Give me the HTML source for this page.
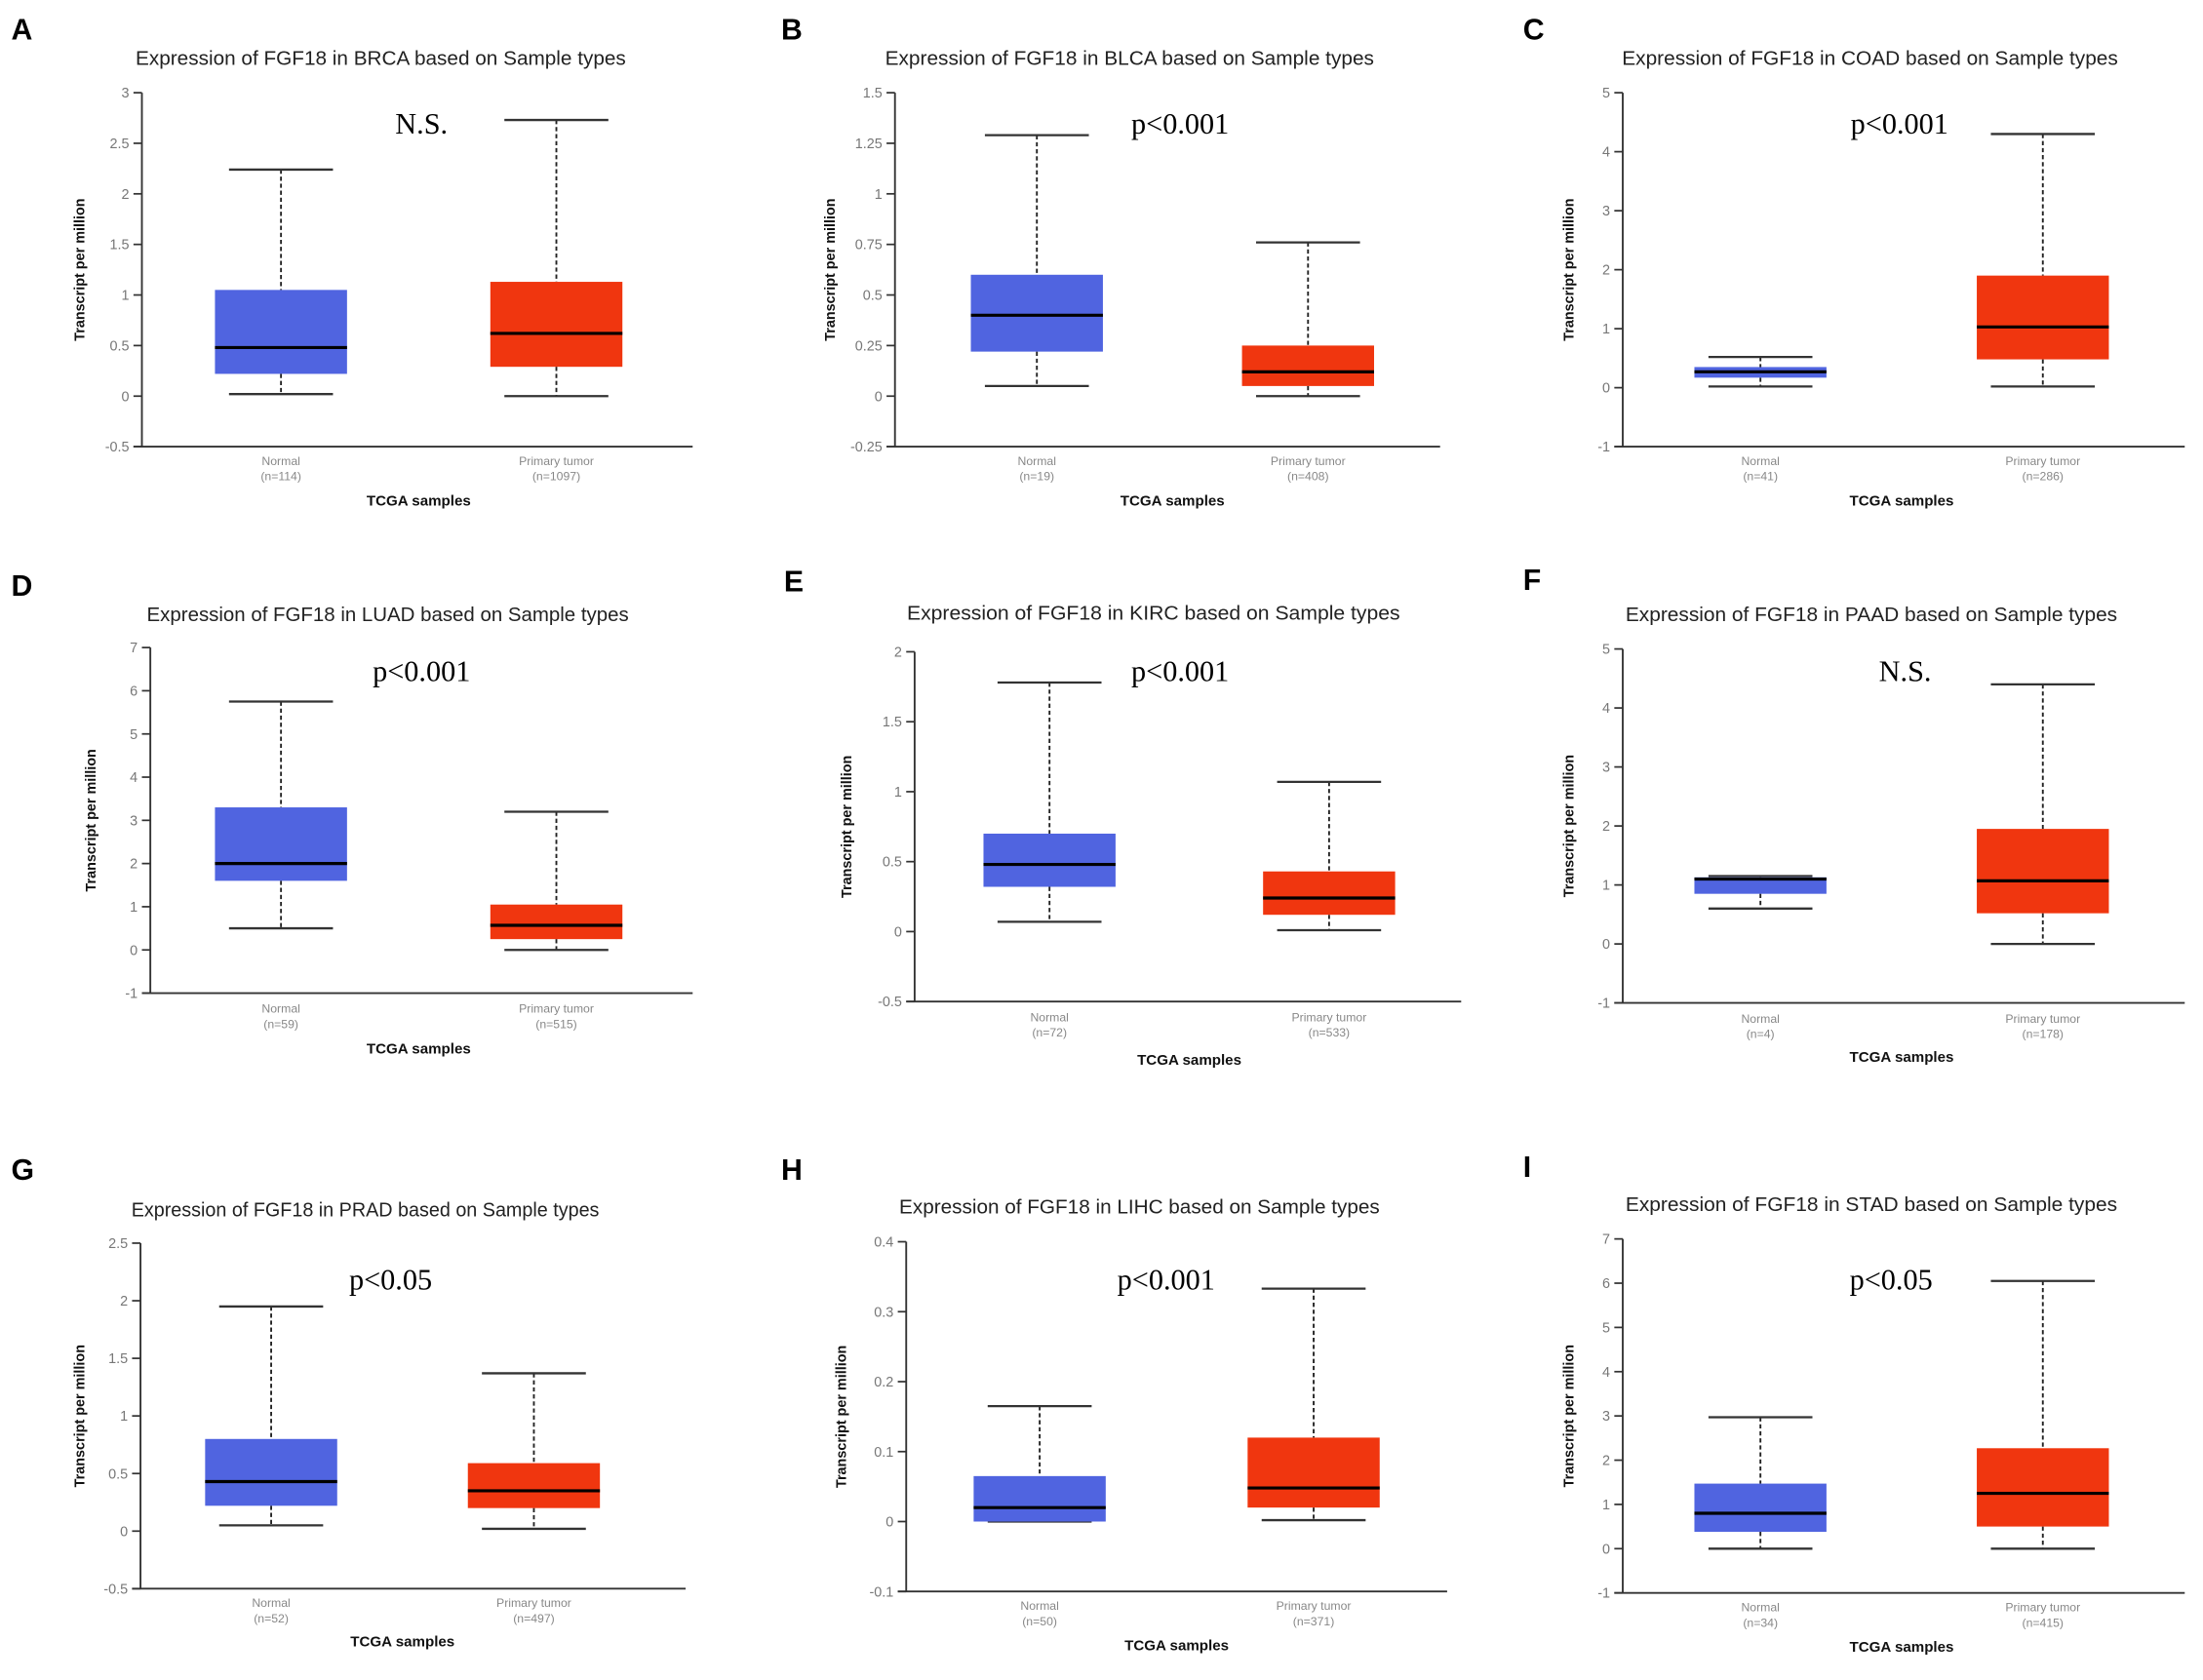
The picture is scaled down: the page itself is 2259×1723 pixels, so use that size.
<!DOCTYPE html>
<html><head><meta charset="utf-8"><style>
html,body{margin:0;padding:0;background:#fff;}
svg{display:block;}
</style></head><body>
<svg id="fig" width="2259" height="1723" viewBox="0 0 1568 1196" preserveAspectRatio="none" xmlns="http://www.w3.org/2000/svg"></svg>
<script>
// panel order: A..I
const panelLetters = ["A","B","C","D","E","F","G","H","I"];
const cancers = ["BRCA","BLCA","COAD","LUAD","KIRC","PAAD","PRAD","LIHC","STAD"];
const pLabels = ["N.S.","p<0.001","p<0.001","p<0.001","p<0.001","N.S.","p<0.05","p<0.001","p<0.05"];
const normalN = [114,19,41,59,72,4,52,50,34];
const tumorN = [1097,408,286,515,533,178,497,371,415];
// [min, q1, median, q3, max]
const normalStats = [
 [0.02,0.22,0.48,1.05,2.24],
 [0.05,0.22,0.40,0.60,1.29],
 [0.02,0.17,0.27,0.35,0.52],
 [0.50,1.60,2.00,3.30,5.75],
 [0.07,0.32,0.48,0.70,1.78],
 [0.60,0.85,1.10,1.13,1.15],
 [0.05,0.22,0.43,0.80,1.95],
 [0.00,0.00,0.02,0.065,0.165],
 [0.00,0.38,0.80,1.47,2.97]
];
const tumorStats = [
 [0.00,0.29,0.62,1.13,2.73],
 [0.00,0.05,0.12,0.25,0.76],
 [0.02,0.48,1.03,1.90,4.30],
 [0.00,0.25,0.57,1.05,3.20],
 [0.01,0.12,0.24,0.43,1.07],
 [0.00,0.52,1.07,1.95,4.40],
 [0.02,0.20,0.35,0.59,1.37],
 [0.002,0.02,0.048,0.12,0.333],
 [0.00,0.50,1.25,2.27,6.05]
];
const yTickLabels = [
 ["-0.5","0","0.5","1","1.5","2","2.5","3"],
 ["-0.25","0","0.25","0.5","0.75","1","1.25","1.5"],
 ["-1","0","1","2","3","4","5"],
 ["-1","0","1","2","3","4","5","6","7"],
 ["-0.5","0","0.5","1","1.5","2"],
 ["-1","0","1","2","3","4","5"],
 ["-0.5","0","0.5","1","1.5","2","2.5"],
 ["-0.1","0","0.1","0.2","0.3","0.4"],
 ["-1","0","1","2","3","4","5","6","7"]
];
// layout (preview coordinates)
const L = [
 {ax:101,top:66,bot:318,xend:493,cx:[200,396],tx:271,ty:41,tw:349,lx:8,ly:28,px:300,py:88,lab:[328,339,356],ytx:60},
 {ax:637,top:66,bot:318,xend:1025,cx:[738,931],tx:804,ty:41,tw:348,lx:556,ly:28,px:840,py:88,lab:[328,339,356],ytx:594},
 {ax:1155,top:66,bot:318,xend:1555,cx:[1253,1454],tx:1331,ty:41,tw:353,lx:1084,ly:28,px:1352,py:88,lab:[328,339,356],ytx:1120},
 {ax:107,top:461,bot:707,xend:493,cx:[200,396],tx:276,ty:437,tw:343,lx:8,ly:424,px:300,py:478,lab:[718,729,746],ytx:68},
 {ax:651,top:464,bot:713,xend:1040,cx:[747,946],tx:821,ty:436,tw:351,lx:558,ly:421,px:840,py:478,lab:[724,735,754],ytx:606},
 {ax:1155,top:462,bot:714,xend:1555,cx:[1253,1454],tx:1332,ty:437,tw:350,lx:1084,ly:420,px:1356,py:478,lab:[725,736,752],ytx:1120},
 {ax:100,top:885,bot:1131,xend:488,cx:[193,380],tx:260,ty:861,tw:333,lx:8,ly:840,px:278,py:911,lab:[1141,1152,1168],ytx:60},
 {ax:645,top:884,bot:1133,xend:1030,cx:[740,935],tx:811,ty:859,tw:342,lx:556,ly:840,px:830,py:911,lab:[1143,1154,1171],ytx:602},
 {ax:1155,top:882,bot:1134,xend:1555,cx:[1253,1454],tx:1332,ty:857,tw:350,lx:1084,ly:838,px:1346,py:911,lab:[1144,1155,1172],ytx:1120}
];
const NS="http://www.w3.org/2000/svg";
const svg=document.getElementById('fig');
function mk(tag,attrs,parent){const e=document.createElementNS(NS,tag);for(const k in attrs)e.setAttribute(k,attrs[k]);(parent||svg).appendChild(e);return e;}
function txt(s,attrs,parent){const e=mk('text',attrs,parent);e.textContent=s;return e;}

for(let i=0;i<9;i++){
  const l=L[i];
  const g=mk('g',{});
  
  
  const ticks=yTickLabels[i].map(Number);
  const ymin=ticks[0], ymax=ticks[ticks.length-1];
  const y=v=>l.bot-(v-ymin)/(ymax-ymin)*(l.bot-l.top);
  const pl=txt(panelLetters[i],{x:l.lx,y:l.ly,'font-family':'Liberation Sans, sans-serif','font-size':21,'font-weight':'bold',fill:'#000'},g);
  
  
  const t=txt('Expression of FGF18 in '+cancers[i]+' based on Sample types',{x:l.tx-l.tw/2,y:l.ty+5,'font-family':'Liberation Sans, sans-serif','font-size':14,fill:'#222',textLength:l.tw,lengthAdjust:'spacingAndGlyphs'},g);
  
  
  const ya=mk('line',{x1:l.ax,y1:l.top,x2:l.ax,y2:l.bot,stroke:'#333','stroke-width':1.3},g);
  
  
  const xa=mk('line',{x1:l.ax-6,y1:l.bot,x2:l.xend,y2:l.bot,stroke:'#333','stroke-width':1.3},g);
  
  
  yTickLabels[i].forEach((lab,k)=>{
    const yy=y(ticks[k]);
    mk('line',{x1:l.ax-6,y1:yy,x2:l.ax,y2:yy,stroke:'#333','stroke-width':1.2},g);
    const tl=txt(lab,{x:l.ax-9,y:yy+3.5,'text-anchor':'end','font-family':'Liberation Sans, sans-serif','font-size':10,fill:'#777'},g);
    
    
  });
  const yt=txt('Transcript per million',{x:0,y:0,transform:`translate(${l.ytx},${(l.top+l.bot)/2}) rotate(-90)`,'text-anchor':'middle','font-family':'Liberation Sans, sans-serif','font-size':10,'font-weight':'bold',fill:'#111'},g);
  
  
  const groups=[[normalStats[i],'#5064e0','Normal','(n='+normalN[i]+')'],[tumorStats[i],'#f0360f','Primary tumor','(n='+tumorN[i]+')']];
  groups.forEach((gr,j)=>{
    const s=gr[0], cx=l.cx[j], hw=47, cw=37;
    const bg=mk('g',{},g);
    
    
    mk('line',{x1:cx,y1:y(s[4]),x2:cx,y2:y(s[3]),stroke:'#222','stroke-width':1.3,'stroke-dasharray':'3,2'},bg);
    mk('line',{x1:cx,y1:y(s[1]),x2:cx,y2:y(s[0]),stroke:'#222','stroke-width':1.3,'stroke-dasharray':'3,2'},bg);
    mk('line',{x1:cx-cw,y1:y(s[4]),x2:cx+cw,y2:y(s[4]),stroke:'#333','stroke-width':1.6},bg);
    mk('line',{x1:cx-cw,y1:y(s[0]),x2:cx+cw,y2:y(s[0]),stroke:'#333','stroke-width':1.6},bg);
    mk('rect',{x:cx-hw,y:y(s[3]),width:2*hw,height:Math.max(0.5,y(s[1])-y(s[3])),fill:gr[1]},bg);
    mk('line',{x1:cx-hw,y1:y(s[2]),x2:cx+hw,y2:y(s[2]),stroke:'#000','stroke-width':2.2},bg);
    const c1=txt(gr[2],{x:cx,y:l.lab[0]+3,'text-anchor':'middle','font-family':'Liberation Sans, sans-serif','font-size':8.5,fill:'#888'},g);
    
    
    const c2=txt(gr[3],{x:cx,y:l.lab[1]+3,'text-anchor':'middle','font-family':'Liberation Sans, sans-serif','font-size':8.5,fill:'#888'},g);
    
    
  });
  const xt=txt('TCGA samples',{x:(l.cx[0]+l.cx[1])/2,y:l.lab[2]+4,'text-anchor':'middle','font-family':'Liberation Sans, sans-serif','font-size':10.5,'font-weight':'bold',fill:'#111'},g);
  
  
  const p=txt(pLabels[i],{x:l.px,y:l.py+7,'text-anchor':'middle','font-family':'Liberation Serif, serif','font-size':21,fill:'#000'},g);
  
  
}
</script>
</body></html>
